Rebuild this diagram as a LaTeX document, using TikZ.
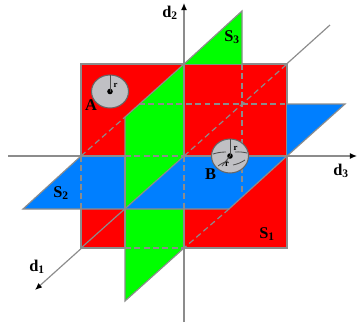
\documentclass[tikz,border=0pt]{standalone}
\usepackage{fontspec}
\setmainfont{Liberation Serif}
\usetikzlibrary{arrows.meta}
\definecolor{planeblue}{RGB}{0,127,255}
\definecolor{edgegray}{RGB}{140,140,140}
\definecolor{ballgray}{RGB}{192,192,196}
\tikzset{
    axisline/.style={edgegray, line width=1pt, -{Latex[black,length=6pt,width=5pt]}},
    edgeline/.style={edgegray, line width=1pt},
    hiddenline/.style={edgegray, line width=1pt, dash pattern=on 5pt off 3pt},
    ballface/.style={fill=ballgray, draw=black!60, line width=0.9pt},
    ballmark/.style={black!70, line width=0.7pt},
    planelabel/.style={font=\fontsize{14}{14}\selectfont\bfseries, inner sep=0pt},
    radiuslabel/.style={font=\fontsize{7.5}{7.5}\selectfont\bfseries, inner sep=0pt}
}
\begin{document}
\begin{tikzpicture}[x=0.03cm, y=-0.03cm]
    \useasboundingbox (0,0) rectangle (361,327);
    % axes
    \draw[axisline] (184,322) -- (184,3);
    \draw[axisline] (8,156) -- (357,156);
    \draw[axisline] (330,25) -- (35,290);

    % plane S1
    \fill[red] (81,64) rectangle (287,248);
    \draw[edgeline] (81,64) rectangle (287,248);

    % plane S3
    \fill[green] (125,117) -- (184,64) -- (184,248) -- (125,248) -- cycle;
    \fill[green] (184,64) -- (242,11) -- (242,64) -- cycle;
    \fill[green] (125,248) -- (184,248) -- (125,301) -- cycle;
    \draw[edgeline] (184,64) -- (242,11) -- (242,64);
    \draw[edgeline] (125,117) -- (125,301) -- (184,248);
    \draw[edgeline] (125,117) -- (184,64);

    % plane S2
    \fill[planeblue] (23,209) -- (81,156) -- (125,156) -- (125,209) -- cycle;
    \fill[planeblue] (125,209) -- (184,156) -- (287,156) -- (229,209) -- cycle;
    \fill[planeblue] (287,104) -- (345,104) -- (287,156) -- cycle;
    \draw[edgeline] (81,156) -- (23,209) -- (229,209) -- (287,156);
    \draw[edgeline] (287,156) -- (345,104) -- (287,104);
    \draw[edgeline] (125,156) -- (125,209);
    \draw[edgeline] (81,156) -- (125,156);
    \draw[edgeline] (184,156) -- (287,156);

    % lines on the faces
    \draw[edgeline] (81,248) -- (184,156);
    \draw[edgeline] (184,64) -- (184,156);
    \draw[edgeline] (184,209) -- (184,248);
    \draw[edgeline] (125,209) -- (125,248);
    \draw[edgeline] (81,209) -- (81,248);

    % hidden lines
    \draw[hiddenline] (81,156) -- (125,117);
    \draw[hiddenline] (139,104) -- (287,104);
    \draw[hiddenline] (125,156) -- (184,156);
    \draw[hiddenline] (184,156) -- (287,64);
    \draw[hiddenline] (242,64) -- (242,195);
    \draw[hiddenline] (184,156) -- (184,209);
    \draw[hiddenline] (81,156) -- (81,209);
    \draw[hiddenline] (229,209) -- (184,248);
    \draw[hiddenline] (125,248) -- (184,248);

    % ball A
    \draw[ballface] (110,91.5) ellipse [x radius=18.5, y radius=16.5];
    \fill[black] (110,91.5) circle (2.8);
    \draw[ballmark] (110,91.5) -- (110,75);
    \node[radiuslabel] (rA) at (115.5,85) {r};
    \node[planelabel] (ballA) at (91,105.5) {A};

    % ball B
    \draw[ballface] (230,156) ellipse [x radius=18.5, y radius=17];
    \fill[black] (230,156) circle (2.8);
    \draw[ballmark] (230,156) -- (230,139);
    \draw[ballmark] (213,154) to[bend left=8] (226,152);
    \draw[ballmark] (235,152) to[bend left=8] (247,153);
    \draw[ballmark] (230,156) -- (222,166);
    \draw[ballmark] (218,166) to[bend left=10] (228,161);
    \draw[ballmark] (233,165) to[bend right=10] (245,160);
    \node[radiuslabel] (rB) at (235.5,148) {r};
    \node[radiuslabel] (rC) at (227,164.5) {r};
    \node[planelabel] (ballB) at (210.5,174) {B};

    % labels
    \node[planelabel] (dOne) at (37,267) {d\textsubscript{1}};
    \node[planelabel] (dTwo) at (170,13) {d\textsubscript{2}};
    \node[planelabel] (dThree) at (341,171) {d\textsubscript{3}};
    \node[planelabel] (sOne) at (267,234) {S\textsubscript{1}};
    \node[planelabel] (sTwo) at (61,193) {S\textsubscript{2}};
    \node[planelabel] (sThree) at (232,37) {S\textsubscript{3}};
\end{tikzpicture}
\end{document}
